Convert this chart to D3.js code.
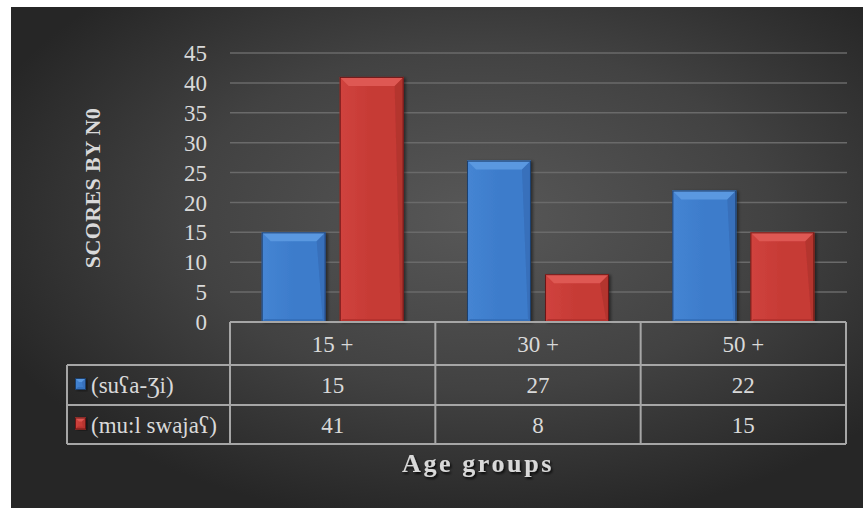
<!DOCTYPE html>
<html>
<head>
<meta charset="utf-8">
<script src="https://cdn.jsdelivr.net/npm/d3@7"></script>
<style>
body{margin:0;background:#fff;}
svg text{font-family:"Liberation Serif","Times New Roman",serif;fill:#d9d9d9;}
</style>
</head>
<body>
<svg id="chart"></svg>
<script>
var categories=["15 +","30 +","50 +"];
var seriesNames=["(su\u0295a-\u01B7i)","(mu:l swaja\u0295)"];
var blueValues=[15,27,22];
var redValues=[41,8,15];
var yTicks=[0,5,10,15,20,25,30,35,40,45];

var w=865,h=508;
var plot={left:230,right:846,top:53,bottom:322};
var rowH=[322,365,405,444];
var tableLeft=67;
var fs=23;

var svg=d3.select("#chart").attr("width",w).attr("height",h);
var defs=svg.append("defs");

var bg=defs.append("radialGradient").attr("id","bg")
  .attr("cx","55%").attr("cy","42%").attr("r","62%");
bg.append("stop").attr("offset","0%").attr("stop-color","#585858");
bg.append("stop").attr("offset","55%").attr("stop-color","#424242");
bg.append("stop").attr("offset","100%").attr("stop-color","#262626");

var sh=defs.append("filter").attr("id","shadow").attr("x","-10%").attr("y","-20%").attr("width","130%").attr("height","160%");
sh.append("feDropShadow").attr("dx",1.5).attr("dy",2).attr("stdDeviation",1.2).attr("flood-color","#000").attr("flood-opacity",0.8);
var bsh=defs.append("filter").attr("id","barshadow").attr("x","-10%").attr("y","-5%").attr("width","125%").attr("height","115%");
bsh.append("feDropShadow").attr("dx",2).attr("dy",1).attr("stdDeviation",1.5).attr("flood-color","#000").attr("flood-opacity",0.45);

var palettes=[
  {main:"#3d7ccb",light:"#5a98e0",left:"#4585d3",right:"#3468b0",bottom:"#3470bb",edge:"#1f3f6d"},
  {main:"#c63a35",light:"#de5853",left:"#d0433e",right:"#a8302c",bottom:"#b5322e",edge:"#6a1816"}
];
palettes.forEach(function(p,i){
  var g=defs.append("linearGradient").attr("id","bar"+i).attr("x1","0").attr("x2","1").attr("y1","0").attr("y2","0");
  g.append("stop").attr("offset","0%").attr("stop-color",p.left);
  g.append("stop").attr("offset","50%").attr("stop-color",p.main);
  g.append("stop").attr("offset","100%").attr("stop-color",p.main);
});

svg.append("rect").attr("x",11).attr("y",7).attr("width",852).attr("height",501).attr("fill","url(#bg)");

var x0=d3.scaleBand().domain(categories).range([plot.left,plot.right]).paddingInner(0).paddingOuter(0);
var x1=d3.scaleBand().domain([0,1]).range([0,x0.bandwidth()]).paddingInner(0.18).paddingOuter(0.406);
var y=d3.scaleLinear().domain([0,45]).range([plot.bottom,plot.top]);

// gridlines
svg.append("g").selectAll("line").data(yTicks.filter(function(d){return d>0;})).join("line")
  .attr("x1",plot.left).attr("x2",plot.right+1)
  .attr("y1",function(d){return y(d);}).attr("y2",function(d){return y(d);})
  .attr("stroke","#6a6a6a").attr("stroke-width",1.5);

// y axis labels
var yAxis=d3.axisLeft(y).tickValues(yTicks).tickSize(0).tickPadding(0);
var ya=svg.append("g").attr("transform","translate(207,0)").call(yAxis);
ya.select(".domain").remove();
ya.selectAll("text").attr("font-size",fs).attr("fill","#d9d9d9")
  .attr("font-family","Liberation Serif, serif").attr("dy","0.33em");

svg.append("text").attr("transform","translate(100,188) rotate(-90)")
  .attr("text-anchor","middle").attr("font-size",22).attr("font-weight","bold")
  .attr("letter-spacing",0.4).text("SCORES BY N0");

// bars
var series=[blueValues,redValues];
var bev=9;
function drawBar(g,bx,bw,by,bh,p,i,b0){
  var gg=g.append("g").attr("filter","url(#barshadow)");
  gg.append("rect").attr("x",bx).attr("y",by).attr("width",bw).attr("height",bh).attr("fill","url(#bar"+i+")");
  var b=Math.min(b0,bh/2);
  gg.append("polygon").attr("points",[[bx,by],[bx+bw,by],[bx+bw-b,by+b],[bx+b,by+b]].join(" ")).attr("fill",p.light);
  gg.append("polygon").attr("points",[[bx+bw,by],[bx+bw,by+bh],[bx+bw-3,by+bh-3],[bx+bw-b,by+b]].join(" ")).attr("fill",p.right).attr("opacity",0.6);
  gg.append("polygon").attr("points",[[bx,by+bh],[bx+bw,by+bh],[bx+bw-3,by+bh-3],[bx+3,by+bh-3]].join(" ")).attr("fill",p.bottom);
  gg.append("rect").attr("x",bx+0.5).attr("y",by+0.5).attr("width",bw-1).attr("height",bh-1)
    .attr("fill","none").attr("stroke",p.edge).attr("stroke-width",1);
}
var barsG=svg.append("g");
series.forEach(function(vals,i){
  vals.forEach(function(v,j){
    var bx=x0(categories[j])+x1(i);
    drawBar(barsG,bx,x1.bandwidth(),y(v),y(0)-y(v),palettes[i],i,bev);
  });
});

// data table
var tg=svg.append("g").attr("stroke","#a6a6a6").attr("stroke-width",2).attr("fill","none");
tg.append("line").attr("x1",plot.left).attr("x2",plot.right).attr("y1",rowH[0]).attr("y2",rowH[0]);
rowH.slice(1).forEach(function(r){
  tg.append("line").attr("x1",tableLeft).attr("x2",plot.right).attr("y1",r).attr("y2",r);
});
tg.append("line").attr("x1",tableLeft).attr("x2",tableLeft).attr("y1",rowH[1]).attr("y2",rowH[3]);
categories.forEach(function(c){
  tg.append("line").attr("x1",x0(c)).attr("x2",x0(c)).attr("y1",rowH[0]).attr("y2",rowH[3]);
});
tg.append("line").attr("x1",plot.right).attr("x2",plot.right).attr("y1",rowH[0]).attr("y2",rowH[3]);

var tt=svg.append("g").attr("font-size",fs).attr("text-anchor","middle");
categories.forEach(function(c,j){
  var cx=x0(c)+x0.bandwidth()/2;
  tt.append("text").attr("x",cx).attr("y",(rowH[0]+rowH[1])/2).attr("dy","0.35em").text(c);
  series.forEach(function(vals,i){
    tt.append("text").attr("x",cx).attr("y",(rowH[i+1]+rowH[i+2])/2).attr("dy","0.35em").text(vals[j]);
  });
});

// legend keys in table
seriesNames.forEach(function(n,i){
  var cy=(rowH[i+1]+rowH[i+2])/2;
  drawBar(svg,75,11,cy-7,12,palettes[i],i,4);
  svg.append("text").attr("x",91).attr("y",cy).attr("dy","0.35em").attr("font-size",fs).text(n);
});

svg.append("text").attr("x",478).attr("y",472).attr("text-anchor","middle")
  .attr("font-size",26).attr("font-weight","bold").attr("letter-spacing",2.6)
  .attr("fill","#f0f0f0").attr("filter","url(#shadow)").text("Age groups");
</script>
</body>
</html>
